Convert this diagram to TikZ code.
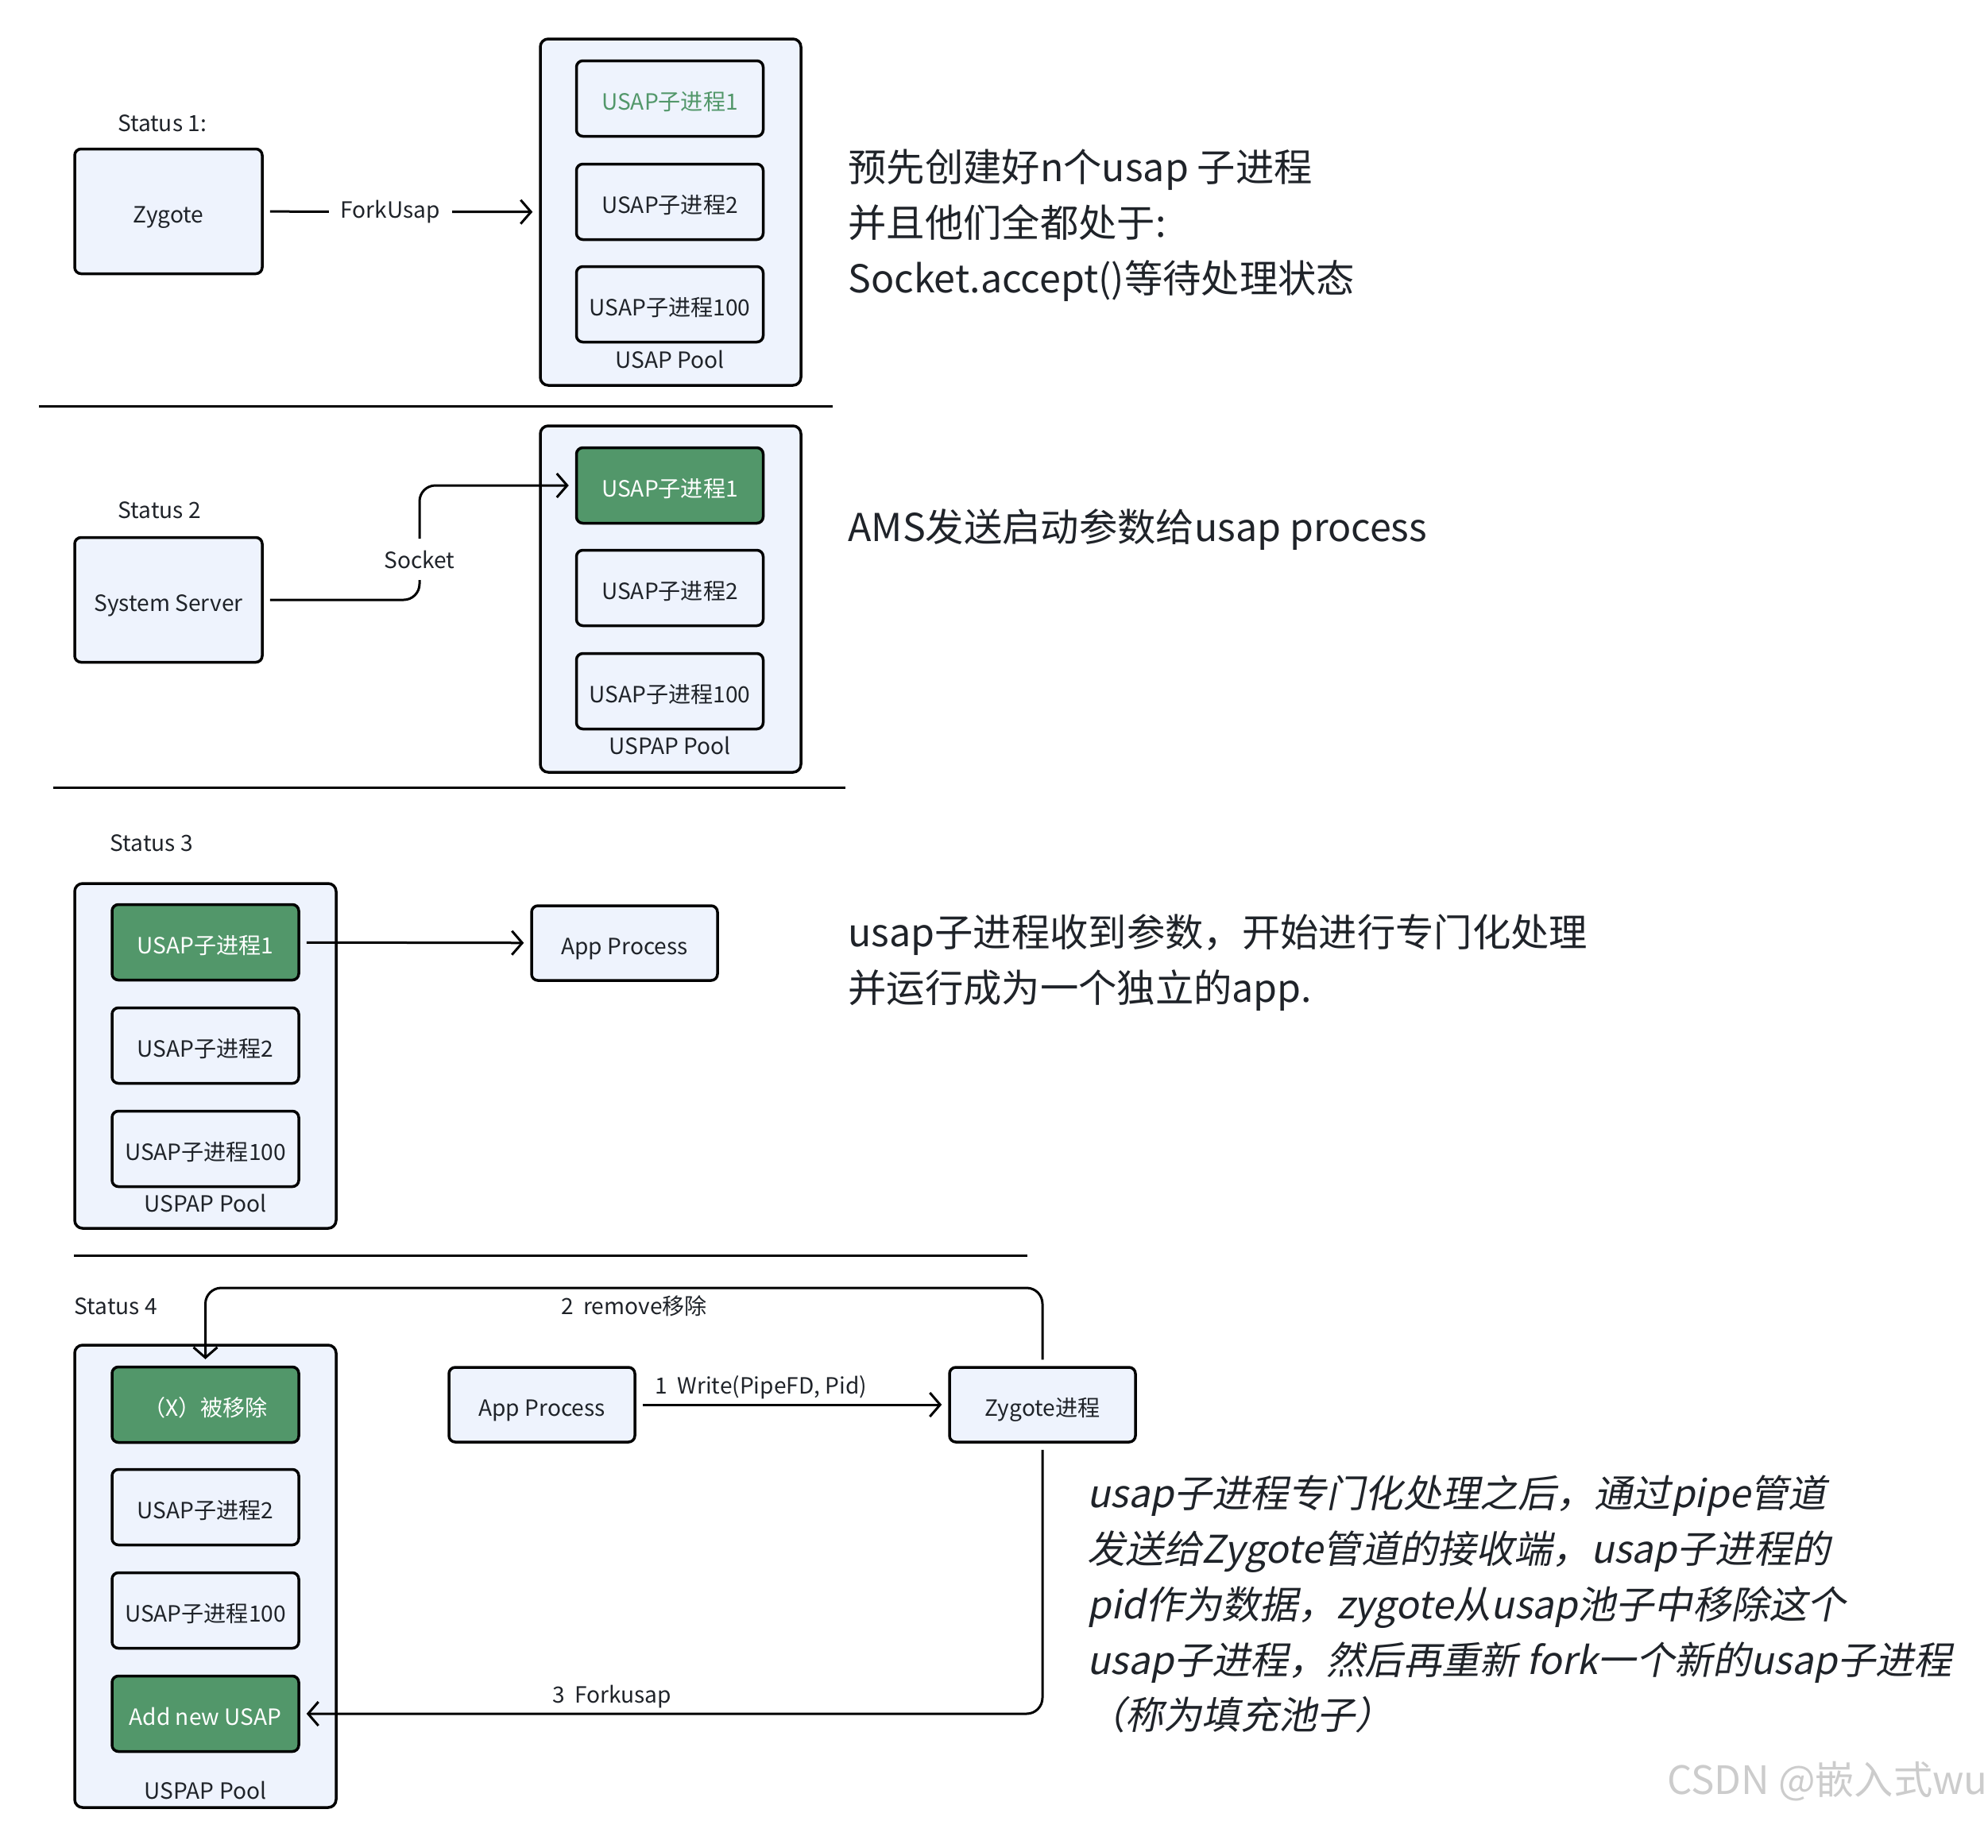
\documentclass[tikz,border=0pt]{standalone}
\usepackage{fontspec}
\setmainfont{Noto Sans CJK SC}
\newfontfamily\notefont[FakeSlant=0.2]{Noto Sans CJK SC}
\usetikzlibrary{arrows.meta}

\definecolor{boxbg}{HTML}{EEF3FD}
\definecolor{usapgreen}{HTML}{52976A}
\definecolor{inkgray}{HTML}{1F2329}

\tikzset{
  box/.style={draw, line width=0.035cm, rounded corners=0.08cm, fill=boxbg,
    text=inkgray, minimum width=2.35cm, minimum height=0.95cm,
    text height=0.9em, text depth=0.1em,
    font=\fontsize{8}{10}\selectfont},
  hot/.style={box, fill=usapgreen, text=white},
  pool/.style={draw, line width=0.035cm, rounded corners=0.1cm, fill=boxbg},
  lbl/.style={text=inkgray, inner sep=0.06cm, font=\fontsize{8}{10}\selectfont},
  flow/.style={line width=0.03cm, -{Straight Barb[length=0.13cm,width=0.3cm]},
    shorten <=0.08cm, shorten >=0.08cm},
  link/.style={flow, -},
  note/.style={anchor=west, align=left, text=inkgray,
    font=\fontsize{13.75}{19.9}\selectfont},
  sep/.style={line width=0.03cm}
}

\begin{document}
\begin{tikzpicture}

\useasboundingbox (0,0) rectangle (25.02,-23.26);

% Status 1
\node[lbl] (st1) at (2.04,-1.55) {Status 1:};
\node[box, minimum width=2.36cm, minimum height=1.57cm] (zyg1) at (2.12,-2.66) {Zygote};
\node[pool, minimum width=3.28cm, minimum height=4.36cm] (pool1) at (8.44,-2.67) {};
\node[box, text=usapgreen] (p1a) at (8.43,-1.24) {USAP子进程1};
\node[box] (p1b) at (8.43,-2.54) {USAP子进程2};
\node[box] (p1c) at (8.43,-3.83) {USAP子进程100};
\node[lbl] (p1l) at (8.43,-4.52) {USAP Pool};
\draw[flow] (zyg1) -- node[lbl, fill=white, inner sep=0.15cm, pos=0.46] (fork) {ForkUsap} (pool1);
\node[note] (n1) at (10.55,-2.84) {预先创建好n个usap 子进程\\并且他们全都处于:\\Socket.accept()等待处理状态};
\draw[sep] (0.49,-5.11) -- (10.48,-5.11);

% Status 2
\node[lbl] (st2) at (2.01,-6.42) {Status 2};
\node[box, minimum width=2.36cm, minimum height=1.57cm] (ss) at (2.12,-7.55) {System Server};
\node[pool, minimum width=3.28cm, minimum height=4.36cm] (pool2) at (8.44,-7.54) {};
\node[hot] (p2a) at (8.43,-6.11) {USAP子进程1};
\node[box] (p2b) at (8.43,-7.40) {USAP子进程2};
\node[box] (p2c) at (8.43,-8.70) {USAP子进程100};
\node[lbl] (p2l) at (8.43,-9.38) {USPAP Pool};
\node[lbl] (sock) at (5.28,-7.04) {Socket};
\draw[link, rounded corners=0.2cm] (ss) -| (sock);
\draw[flow, rounded corners=0.2cm] (sock) |- (p2a);
\node[note] (n2) at (10.55,-6.67) {AMS发送启动参数给usap process};
\draw[sep] (0.67,-9.91) -- (10.64,-9.91);

% Status 3
\node[lbl] (st3) at (1.91,-10.61) {Status 3};
\node[pool, minimum width=3.29cm, minimum height=4.34cm] (pool3) at (2.585,-13.29) {};
\node[hot] (p3a) at (2.585,-11.86) {USAP子进程1};
\node[box] (p3b) at (2.585,-13.16) {USAP子进程2};
\node[box] (p3c) at (2.585,-14.46) {USAP子进程100};
\node[lbl] (p3l) at (2.585,-15.14) {USPAP Pool};
\node[box, minimum width=2.34cm, minimum height=0.94cm] (app3) at (7.86,-11.87) {App Process};
\draw[flow] (p3a) -- (app3);
\node[note] (n3) at (10.55,-12.12) {usap子进程收到参数，开始进行专门化处理\\并运行成为一个独立的app.};
\draw[sep] (0.93,-15.80) -- (12.93,-15.80);

% Status 4
\node[lbl] (st4) at (1.46,-16.44) {Status 4};
\node[pool, minimum width=3.29cm, minimum height=5.82cm] (pool4) at (2.585,-19.84) {};
\node[hot] (p4a) at (2.585,-17.68) {（X）被移除};
\node[box] (p4b) at (2.585,-18.97) {USAP子进程2};
\node[box] (p4c) at (2.585,-20.27) {USAP子进程100};
\node[hot] (p4d) at (2.585,-21.57) {Add new USAP};
\node[lbl] (p4l) at (2.585,-22.53) {USPAP Pool};
\node[box, minimum width=2.34cm, minimum height=0.94cm] (app4) at (6.82,-17.68) {App Process};
\node[box, minimum width=2.34cm, minimum height=0.94cm] (zyg4) at (13.12,-17.68) {Zygote进程};
\coordinate (rmv) at (7.98,-16.21);
\draw[flow] (app4) -- node[lbl, above, pos=0.4] (wr) {1~~Write(PipeFD, Pid)} (zyg4);
\draw[flow, rounded corners=0.2cm] (zyg4) |- (rmv) -| (p4a);
\node[lbl, below=0.03cm] (rm) at (rmv) {2~~remove移除};
\draw[flow, rounded corners=0.2cm] (zyg4) |- node[lbl, above, pos=0.79] (fk) {3~~Forkusap} (p4d);
\node[note, font=\notefont\fontsize{13.7}{19.9}\selectfont] (n4) at (13.56,-20.19) {usap子进程专门化处理之后，通过pipe管道\\发送给Zygote管道的接收端，usap子进程的\\pid作为数据，zygote从usap池子中移除这个\\usap子进程，然后再重新 fork一个新的usap子进程\\（称为填充池子）};

\node[text=gray!40, font=\fontsize{14}{16}\selectfont] (wm) at (23.0,-22.42) {CSDN @嵌入式wu};

\end{tikzpicture}
\end{document}
